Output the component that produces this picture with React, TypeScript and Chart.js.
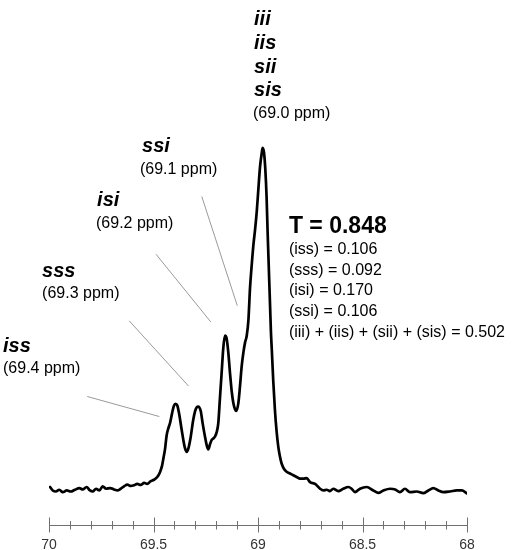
import React, { useEffect, useRef } from 'react';
import { Chart, registerables } from 'chart.js';

Chart.register(...registerables);

// Chemical shift (ppm) and relative intensity of the 13C NMR trace
const PPM = [
  69.995, 69.982, 69.967, 69.951, 69.934, 69.915, 69.896, 69.876, 69.855, 69.839,
  69.820, 69.804, 69.791, 69.775, 69.759, 69.743, 69.727, 69.708, 69.689, 69.673,
  69.657, 69.641, 69.625, 69.609, 69.593, 69.578, 69.561, 69.545, 69.530, 69.513,
  69.498, 69.482, 69.469, 69.459, 69.452, 69.445, 69.437, 69.429, 69.421, 69.411,
  69.403, 69.394, 69.386, 69.378, 69.365, 69.356, 69.349, 69.341, 69.333, 69.323,
  69.310, 69.301, 69.293, 69.286, 69.274, 69.265, 69.254, 69.245, 69.238, 69.230,
  69.222, 69.213, 69.206, 69.198, 69.190, 69.182, 69.174, 69.166, 69.158, 69.150,
  69.142, 69.134, 69.126, 69.118, 69.110, 69.104, 69.094, 69.086, 69.078, 69.070,
  69.062, 69.054, 69.046, 69.038, 69.030, 69.022, 69.014, 69.006, 68.999, 68.990,
  68.982, 68.978, 68.971, 68.965, 68.959, 68.954, 68.950, 68.946, 68.942, 68.938,
  68.934, 68.927, 68.919, 68.911, 68.903, 68.895, 68.887, 68.876, 68.863, 68.847,
  68.831, 68.815, 68.799, 68.783, 68.767, 68.751, 68.727, 68.703, 68.688, 68.671,
  68.656, 68.640, 68.616, 68.592, 68.568, 68.552, 68.536, 68.512, 68.480, 68.448,
  68.424, 68.400, 68.368, 68.344, 68.321, 68.297, 68.273, 68.241, 68.209, 68.185,
  68.161, 68.137, 68.113, 68.081, 68.049, 68.025, 68.001,
];

const INTENSITY = [
  2.0, 1.0, 0.7, 1.2, 0.5, 1.0, 0.7, 1.2, 1.7, 1.3,
  2.0, 1.0, 0.7, 1.5, 1.0, 2.2, 1.5, 1.7, 1.3, 1.0,
  1.5, 2.2, 2.7, 2.3, 2.5, 2.9, 2.6, 3.2, 2.9, 3.7,
  4.1, 4.9, 6.3, 8.2, 10.5, 12.9, 17.0, 19.0, 20.5, 23.4,
  25.4, 26.1, 25.6, 23.4, 18.5, 15.2, 13.2, 12.2, 13.2, 16.1,
  21.4, 24.0, 25.1, 25.3, 24.0, 20.5, 16.7, 14.0, 12.9, 14.3,
  15.6, 16.1, 16.6, 17.8, 20.5, 27.8, 35.0, 42.3, 45.8, 45.0,
  40.9, 35.0, 29.8, 26.3, 24.5, 24.0, 26.3, 31.3, 37.0, 40.9,
  43.8, 45.8, 50.2, 59.8, 66.3, 72.1, 76.5, 81.7, 87.6, 94.9,
  98.7, 100.2, 98.7, 94.0, 86.1, 75.9, 68.6, 61.3, 54.0, 46.7,
  41.8, 32.7, 24.3, 18.1, 13.7, 10.8, 8.8, 7.3, 6.4, 5.9,
  5.4, 4.9, 4.4, 4.4, 4.6, 3.4, 2.9, 1.5, 1.0, 1.2,
  0.8, 1.5, 0.8, 1.5, 2.0, 1.5, 0.5, 1.5, 2.0, 1.0,
  0.3, 1.0, 1.5, 1.3, 0.5, 1.5, 0.5, 0.7, 0.2, 1.0,
  1.7, 1.0, 0.5, 0.7, 1.0, 1.0, 0.2,
];

// x-axis ticks (every 0.1 ppm, labelled every 0.5 ppm)
const TICK_VALUES = [
  70, 69.9, 69.8, 69.7, 69.6, 69.5, 69.4, 69.3, 69.2, 69.1, 69,
  68.9, 68.8, 68.7, 68.6, 68.5, 68.4, 68.3, 68.2, 68.1, 68,
];
const TICK_LABELS = [
  '70', '', '', '', '', '69.5', '', '', '', '', '69',
  '', '', '', '', '68.5', '', '', '', '', '68',
];

// Triad labels (anchor in ppm / intensity units)
const SEQ_LABELS = ['iii', 'iis', 'sii', 'sis', 'ssi', 'isi', 'sss', 'iss'];
const SEQ_X = [69.019, 69.019, 69.019, 69.019, 69.555, 69.770, 70.033, 70.220];
const SEQ_Y = [135.7, 128.9, 122.0, 115.1, 98.9, 83.5, 62.8, 41.2];

const SHIFT_LABELS = ['(69.0 ppm)', '(69.1 ppm)', '(69.2 ppm)', '(69.3 ppm)', '(69.4 ppm)'];
const SHIFT_X = [69.024, 69.565, 69.775, 70.033, 70.220];
const SHIFT_Y = [108.9, 92.5, 77.1, 56.6, 35.0];

// Leader lines from labels to peaks
const LEADER_X1 = [69.269, 69.488, 69.616, 69.817];
const LEADER_Y1 = [86.1, 69.4, 50.1, 28.2];
const LEADER_X2 = [69.099, 69.226, 69.332, 69.472];
const LEADER_Y2 = [54.5, 49.8, 31.2, 22.4];

// Tacticity summary
const SUMMARY_TITLE = 'T = 0.848';
const SUMMARY_TITLE_POS = [68.852, 75.6];
const SUMMARY_LINES = [
  '(iss) = 0.106',
  '(sss) = 0.092',
  '(isi) = 0.170',
  '(ssi) = 0.106',
  '(iii) + (iis) + (sii) + (sis) = 0.502',
];
const SUMMARY_X = 68.852;
const SUMMARY_Y = [69.5, 63.5, 57.5, 51.5, 45.5];

const FONT = "'Liberation Sans', Arial, Helvetica, sans-serif";

const overlayPlugin = {
  id: 'overlay',
  afterDatasetsDraw(chart: any) {
    const ctx = chart.ctx;
    const xs = chart.scales.x;
    const ys = chart.scales.y;
    const px = (v: number) => xs.getPixelForValue(v);
    const py = (v: number) => ys.getPixelForValue(v);
    ctx.save();

    // axis line and tick marks
    const axisY = Math.round(chart.chartArea.bottom) + 0.5;
    ctx.strokeStyle = '#707070';
    ctx.lineWidth = 1;
    ctx.beginPath();
    ctx.moveTo(px(TICK_VALUES[0]), axisY);
    ctx.lineTo(px(TICK_VALUES[TICK_VALUES.length - 1]), axisY);
    ctx.stroke();
    TICK_VALUES.forEach((v, i) => {
      const major = TICK_LABELS[i] !== '';
      const x = Math.round(px(v)) + 0.5;
      ctx.beginPath();
      ctx.moveTo(x, axisY - (major ? 8 : 4.5));
      ctx.lineTo(x, axisY + (major ? 7 : 4));
      ctx.stroke();
    });

    // leader lines
    ctx.strokeStyle = '#9a9a9a';
    ctx.lineWidth = 1;
    LEADER_X1.forEach((_, i) => {
      ctx.beginPath();
      ctx.moveTo(px(LEADER_X1[i]), py(LEADER_Y1[i]));
      ctx.lineTo(px(LEADER_X2[i]), py(LEADER_Y2[i]));
      ctx.stroke();
    });

    ctx.fillStyle = '#000';
    ctx.textBaseline = 'alphabetic';
    ctx.textAlign = 'left';

    ctx.font = `italic bold 20px ${FONT}`;
    SEQ_LABELS.forEach((t, i) => ctx.fillText(t, px(SEQ_X[i]), py(SEQ_Y[i])));

    ctx.font = `16px ${FONT}`;
    SHIFT_LABELS.forEach((t, i) => ctx.fillText(t, px(SHIFT_X[i]), py(SHIFT_Y[i])));

    ctx.font = `bold 23px ${FONT}`;
    ctx.fillText(SUMMARY_TITLE, px(SUMMARY_TITLE_POS[0]), py(SUMMARY_TITLE_POS[1]));

    ctx.font = `16px ${FONT}`;
    SUMMARY_LINES.forEach((t, i) => ctx.fillText(t, px(SUMMARY_X), py(SUMMARY_Y[i])));

    ctx.restore();
  },
};

export default function App() {
  const ref = useRef<HTMLCanvasElement | null>(null);

  useEffect(() => {
    if (!ref.current) return;
    const chart = new Chart(ref.current, {
      type: 'line',
      data: {
        datasets: [
          {
            data: PPM.map((x, i) => ({ x, y: INTENSITY[i] })),
            borderColor: '#000',
            borderWidth: 2.7,
            pointRadius: 0,
            cubicInterpolationMode: 'monotone',
            borderJoinStyle: 'round',
            borderCapStyle: 'round',
            fill: false,
          },
        ],
      },
      options: {
        animation: false,
        responsive: true,
        maintainAspectRatio: false,
        layout: { padding: { left: 49, right: 45, top: 0, bottom: -15 } },
        plugins: { legend: { display: false }, tooltip: { enabled: false } },
        scales: {
          x: {
            type: 'linear',
            min: 68,
            max: 70,
            reverse: true,
            grid: { display: false, drawTicks: false },
            border: { display: false },
            afterBuildTicks: (axis: any) => {
              axis.ticks = TICK_VALUES.map((v) => ({ value: v }));
            },
            ticks: {
              autoSkip: false,
              maxRotation: 0,
              padding: 13,
              color: '#333',
              font: { family: FONT, size: 14, lineHeight: 1 },
              callback: (_v: any, i: number) => TICK_LABELS[i],
            },
          },
          y: {
            display: false,
            min: -9,
            max: 143,
          },
        },
      },
      plugins: [overlayPlugin],
    } as any);
    return () => chart.destroy();
  }, []);

  return (
    <div style={{ position: 'fixed', left: 0, top: 0, width: 512, height: 550, background: '#fff' }}>
      <canvas ref={ref} />
    </div>
  );
}
